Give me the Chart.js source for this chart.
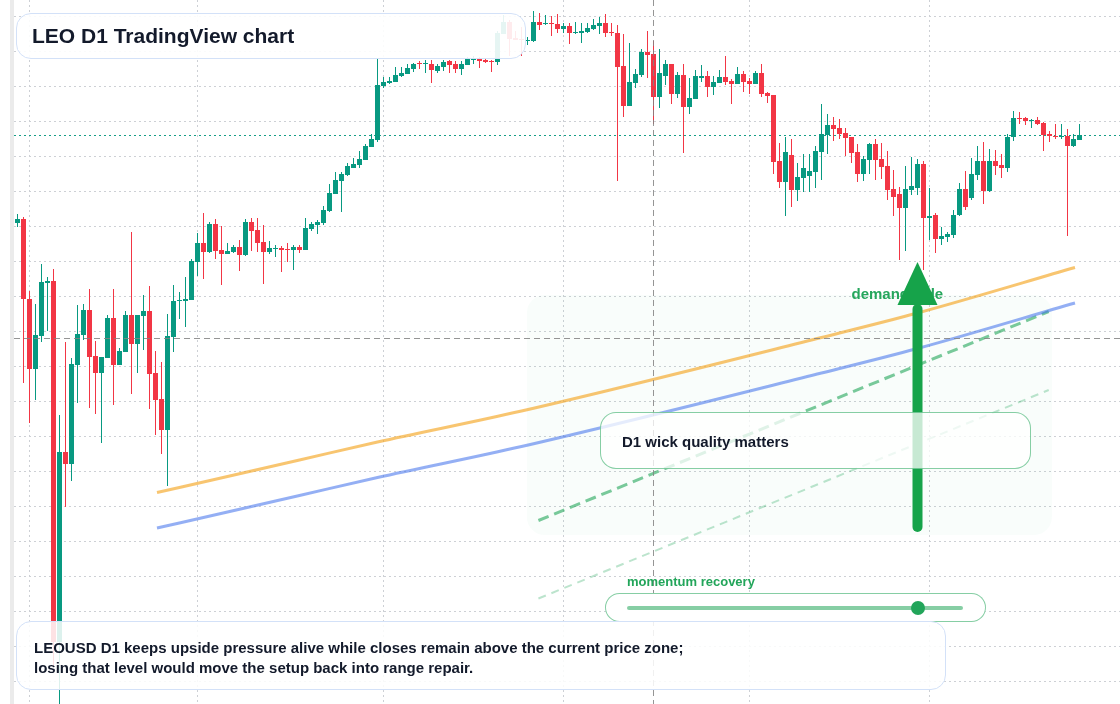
<!DOCTYPE html>
<html>
<head>
<meta charset="utf-8">
<title>LEO D1 TradingView chart</title>
<script src="https://cdn.jsdelivr.net/npm/chart.js@4.4.1/dist/chart.umd.min.js"></script>
<style>
  html, body { margin:0; padding:0; background:#ffffff; }
  #wrap { position:relative; width:1120px; height:704px; overflow:hidden; font-family:"Liberation Sans", Arial, Helvetica, sans-serif; }
  #chart { position:absolute; left:0; top:0; }
  .box { position:absolute; box-sizing:border-box; }
  .txt { position:absolute; white-space:nowrap; font-weight:700; color:#131a2b; }
</style>
</head>
<body>
<div id="wrap">
  <canvas id="chart" width="1120" height="704"></canvas>
  <div class="box" style="left:600px;top:412px;width:431px;height:57px;border:1.5px solid rgba(34,165,89,0.55);border-radius:16px;background:rgba(255,255,255,0.76);"></div>
  <div class="txt" style="left:622px;top:432px;font-size:15px;line-height:20px;">D1 wick quality matters</div>
  <div class="txt" style="left:627px;top:574px;font-size:13px;line-height:16px;color:#22a55a;">momentum recovery</div>
  <div class="box" style="left:605px;top:593px;width:381px;height:29px;border:1.5px solid rgba(34,165,89,0.55);border-radius:15px;background:#ffffff;"></div>
  <div class="box" style="left:627px;top:606px;width:336px;height:4px;background:rgba(34,165,89,0.55);border-radius:2px;"></div>
  <div class="box" id="knob" style="left:911px;top:601px;width:14px;height:14px;border-radius:50%;background:#22a55a;"></div>
  <div class="box" style="left:16px;top:13px;width:510px;height:46px;border:1.5px solid #d3e1f8;border-radius:15px;background:rgba(255,255,255,0.9);"></div>
  <div class="txt" style="left:32px;top:24px;font-size:21px;line-height:24px;">LEO D1 TradingView chart</div>
  <div class="box" style="left:16px;top:621px;width:930px;height:69px;border:1.5px solid #d3e1f8;border-radius:15px;background:rgba(255,255,255,0.86);"></div>
  <div class="txt" style="left:34px;top:638px;font-size:15px;line-height:20px;">LEOUSD D1 keeps upside pressure alive while closes remain above the current price zone;<br>losing that level would move the setup back into range repair.</div>
</div>
<script>
// ---- data (daily candles, first candle 2025-01-30) ----
const startDate = [2025, 0, 30];
const opens = [9.554,9.562,9.402,9.262,9.328,9.434,9.438,8.716,9.096,9.072,9.270,9.330,9.380,9.288,9.254,9.284,9.364,9.270,9.296,9.370,
9.312,9.368,9.378,9.254,9.202,9.140,9.326,9.398,9.398,9.400,9.476,9.514,9.496,9.552,9.500,9.492,9.496,9.506,9.490,9.556,
9.540,9.516,9.496,9.502,9.504,9.502,9.500,9.506,9.500,9.542,9.550,9.554,9.578,9.612,9.638,9.650,9.664,9.670,9.680,9.706,
9.720,9.828,9.834,9.836,9.848,9.852,9.862,9.874,9.872,9.872,9.858,9.866,9.878,9.872,9.862,9.870,9.880,9.882,9.880,9.878,
9.876,9.932,9.956,9.924,9.922,9.918,9.918,9.956,9.952,9.954,9.952,9.942,9.948,9.934,9.934,9.936,9.942,9.948,9.954,9.936,
9.934,9.868,9.788,9.834,9.850,9.896,9.892,9.806,9.848,9.872,9.812,9.850,9.786,9.802,9.844,9.848,9.826,9.834,9.846,9.838,
9.832,9.852,9.838,9.832,9.854,9.814,9.810,9.678,9.636,9.690,9.620,9.644,9.648,9.656,9.696,9.730,9.750,9.744,9.734,9.726,
9.696,9.652,9.680,9.712,9.682,9.668,9.622,9.612,9.584,9.620,9.624,9.672,9.564,9.570,9.522,9.526,9.530,9.570,9.622,9.604,
9.650,9.678,9.618,9.678,9.670,9.664,9.726,9.764,9.764,9.758,9.760,9.754,9.732,9.728,9.726,9.728,9.708,9.720];
const highs = [9.572,9.566,9.418,9.392,9.472,9.446,9.462,9.170,9.316,9.284,9.390,9.392,9.422,9.318,9.286,9.370,9.422,9.304,9.378,9.536,
9.370,9.410,9.428,9.298,9.276,9.372,9.430,9.416,9.446,9.482,9.534,9.574,9.556,9.562,9.548,9.514,9.510,9.520,9.562,9.564,
9.564,9.550,9.518,9.510,9.508,9.514,9.510,9.510,9.564,9.556,9.560,9.588,9.632,9.656,9.656,9.674,9.684,9.698,9.712,9.732,
9.882,9.846,9.846,9.866,9.866,9.872,9.874,9.878,9.880,9.880,9.872,9.880,9.880,9.878,9.878,9.886,9.888,9.886,9.884,9.880,
9.938,9.970,9.960,9.938,9.946,9.926,9.978,9.974,9.970,9.968,9.972,9.954,9.954,9.956,9.954,9.954,9.962,9.966,9.972,9.954,
9.950,9.932,9.914,9.862,9.902,9.938,9.918,9.902,9.880,9.872,9.856,9.872,9.844,9.860,9.870,9.858,9.848,9.860,9.888,9.842,
9.866,9.858,9.844,9.858,9.872,9.816,9.810,9.714,9.726,9.722,9.674,9.692,9.692,9.708,9.792,9.772,9.766,9.762,9.744,9.726,
9.712,9.688,9.714,9.722,9.714,9.698,9.660,9.626,9.668,9.686,9.682,9.678,9.624,9.574,9.546,9.536,9.580,9.634,9.658,9.684,
9.708,9.716,9.702,9.700,9.692,9.732,9.778,9.776,9.766,9.762,9.766,9.756,9.738,9.752,9.752,9.742,9.732,9.752];
const lows = [9.546,9.234,9.154,9.200,9.316,9.338,8.666,8.585,8.986,9.038,9.194,9.320,9.184,9.172,9.114,9.284,9.190,9.270,9.296,9.212,
9.254,9.300,9.182,9.130,9.092,9.028,9.296,9.362,9.346,9.400,9.448,9.442,9.494,9.482,9.430,9.492,9.494,9.458,9.488,9.498,
9.496,9.432,9.492,9.486,9.456,9.476,9.460,9.494,9.500,9.538,9.532,9.550,9.576,9.612,9.576,9.648,9.664,9.664,9.680,9.706,
9.716,9.824,9.832,9.836,9.846,9.852,9.856,9.862,9.854,9.834,9.854,9.858,9.854,9.854,9.850,9.870,9.872,9.864,9.874,9.856,
9.870,9.932,9.888,9.920,9.888,9.910,9.916,9.940,9.950,9.928,9.934,9.934,9.912,9.932,9.914,9.934,9.940,9.932,9.926,9.928,
9.638,9.766,9.788,9.824,9.846,9.844,9.752,9.784,9.830,9.792,9.804,9.694,9.772,9.802,9.836,9.806,9.810,9.834,9.830,9.792,
9.832,9.816,9.812,9.832,9.806,9.794,9.652,9.624,9.568,9.586,9.598,9.616,9.616,9.624,9.640,9.692,9.718,9.722,9.688,9.674,
9.636,9.638,9.652,9.640,9.642,9.600,9.568,9.480,9.498,9.610,9.610,9.460,9.520,9.494,9.510,9.516,9.524,9.568,9.580,9.600,
9.640,9.592,9.616,9.650,9.644,9.656,9.718,9.752,9.750,9.744,9.750,9.698,9.716,9.722,9.722,9.528,9.706,9.720];
const closes = [9.562,9.402,9.262,9.330,9.436,9.438,8.716,9.096,9.072,9.272,9.332,9.380,9.286,9.254,9.286,9.364,9.270,9.298,9.370,9.312,
9.370,9.378,9.252,9.200,9.140,9.328,9.398,9.400,9.402,9.478,9.514,9.496,9.552,9.498,9.492,9.498,9.506,9.490,9.556,9.538,
9.514,9.496,9.504,9.504,9.500,9.500,9.506,9.500,9.544,9.552,9.556,9.580,9.614,9.640,9.652,9.668,9.672,9.682,9.708,9.722,
9.830,9.836,9.838,9.850,9.854,9.864,9.872,9.872,9.874,9.860,9.868,9.876,9.870,9.862,9.872,9.882,9.882,9.878,9.876,9.876,
9.934,9.956,9.922,9.920,9.920,9.920,9.956,9.950,9.954,9.952,9.942,9.948,9.934,9.936,9.938,9.944,9.950,9.954,9.934,9.934,
9.866,9.788,9.836,9.852,9.896,9.890,9.806,9.854,9.872,9.812,9.850,9.786,9.804,9.848,9.848,9.826,9.836,9.846,9.836,9.832,
9.852,9.836,9.832,9.854,9.812,9.808,9.676,9.636,9.696,9.620,9.646,9.664,9.658,9.698,9.732,9.750,9.742,9.732,9.724,9.694,
9.652,9.682,9.712,9.680,9.666,9.620,9.606,9.584,9.622,9.628,9.672,9.564,9.568,9.522,9.528,9.532,9.570,9.622,9.586,9.652,
9.678,9.618,9.678,9.668,9.664,9.726,9.764,9.762,9.758,9.760,9.752,9.730,9.728,9.726,9.728,9.708,9.722,9.730];

// horizontal grid values (price axis ticks, labels hidden)
const priceTicks = [9.968,9.898,9.828,9.758,9.688,9.618,9.548,9.478,9.408,9.338,9.268,9.198,9.128,9.058,8.988,8.918,8.848,8.778,8.708,8.638];
const currentPrice = 9.730;
const crosshairIndex = 106;
const crosshairPrice = 9.324;

// overlay studies (candle index, price)
const curveIdx    = [23.25, 35, 47, 60, 84, 134, 150, 176.25];
const orangeVals  = [9.015, 9.047, 9.080, 9.116, 9.178, 9.325, 9.374, 9.465];
const blueVals    = [8.944, 8.976, 9.009, 9.045, 9.107, 9.254, 9.303, 9.394];
const trendIdx    = [86.82, 171.87];
const trendVals   = [8.959, 9.377];
const channelVals = [8.803, 9.220];
const zoneIdx     = [84.9, 172.4];
const zoneVals    = [8.930, 9.410];
const arrowIdx    = 150;
const arrowVals   = [8.946, 9.390, 9.476];   // tail, head base, tip
const demandLabel = {idx: 139, price: 9.403, text: 'demand side'};

const GREEN = '#089981', RED = '#f23645';

// ---- build ----
const idx = opens.map((_, i) => i);
const dates = idx.map(i => new Date(Date.UTC(startDate[0], startDate[1], startDate[2] + i)).toISOString().slice(0, 10));
const monthStarts = idx.filter(i => dates[i].endsWith('-01'));
const candleColors = idx.map(i => closes[i] >= opens[i] ? GREEN : RED);

function rr(ctx, x, y, w, h, r) {
  ctx.beginPath();
  ctx.moveTo(x + r, y); ctx.lineTo(x + w - r, y); ctx.arcTo(x + w, y, x + w, y + r, r);
  ctx.lineTo(x + w, y + h - r); ctx.arcTo(x + w, y + h, x + w - r, y + h, r);
  ctx.lineTo(x + r, y + h); ctx.arcTo(x, y + h, x, y + h - r, r);
  ctx.lineTo(x, y + r); ctx.arcTo(x, y, x + r, y, r); ctx.closePath();
}

const overlayPlugin = {
  id: 'overlay',
  beforeDatasetsDraw(chart) {
    const {ctx, scales: {x, y}} = chart;
    ctx.save();
    ctx.fillStyle = '#ebebeb';
    ctx.fillRect(10, 0, 4, chart.height);
    ctx.lineWidth = 1;
    ctx.strokeStyle = '#cdd0d5';
    ctx.setLineDash([2, 3]);
    priceTicks.forEach(v => {
      const py = Math.round(y.getPixelForValue(v)) + 0.5;
      ctx.beginPath(); ctx.moveTo(14, py); ctx.lineTo(chart.width, py); ctx.stroke();
    });
    monthStarts.forEach(i => {
      const px = x.getPixelForValue(i);
      ctx.beginPath(); ctx.moveTo(px, 0); ctx.lineTo(px, chart.height); ctx.stroke();
    });
    // demand zone
    const zx0 = x.getPixelForValue(zoneIdx[0]), zx1 = x.getPixelForValue(zoneIdx[1]);
    const zy0 = y.getPixelForValue(zoneVals[1]), zy1 = y.getPixelForValue(zoneVals[0]);
    ctx.setLineDash([]);
    ctx.fillStyle = 'rgba(34,197,94,0.028)';
    rr(ctx, zx0, zy0, zx1 - zx0, zy1 - zy0, 18);
    ctx.fill();
    // current price line
    ctx.strokeStyle = 'rgba(8,153,129,0.95)';
    ctx.setLineDash([2, 3]);
    const cp = Math.round(y.getPixelForValue(currentPrice)) + 0.5;
    ctx.beginPath(); ctx.moveTo(14, cp); ctx.lineTo(chart.width, cp); ctx.stroke();
    ctx.restore();
  },
  afterDatasetsDraw(chart) {
    const {ctx, scales: {x, y}} = chart;
    ctx.save();
    // crosshair
    ctx.strokeStyle = 'rgba(130,130,130,0.85)';
    ctx.lineWidth = 1;
    ctx.setLineDash([6, 4]);
    const hx = x.getPixelForValue(crosshairIndex);
    const hy = Math.round(y.getPixelForValue(crosshairPrice)) + 0.5;
    ctx.beginPath(); ctx.moveTo(hx, 0); ctx.lineTo(hx, chart.height); ctx.stroke();
    ctx.beginPath(); ctx.moveTo(14, hy); ctx.lineTo(chart.width, hy); ctx.stroke();
    ctx.setLineDash([]);
    // demand label
    ctx.fillStyle = '#25a65c';
    ctx.font = 'bold 15px "Liberation Sans", Arial, sans-serif';
    ctx.textBaseline = 'alphabetic';
    ctx.fillText(demandLabel.text, x.getPixelForValue(demandLabel.idx), y.getPixelForValue(demandLabel.price));
    // arrow
    const ax = x.getPixelForValue(arrowIdx);
    const tail = y.getPixelForValue(arrowVals[0]);
    const base = y.getPixelForValue(arrowVals[1]);
    const tip = y.getPixelForValue(arrowVals[2]);
    ctx.strokeStyle = '#16a34a';
    ctx.fillStyle = '#16a34a';
    ctx.lineWidth = 10;
    ctx.lineCap = 'round';
    ctx.beginPath(); ctx.moveTo(ax, tail); ctx.lineTo(ax, base + 4); ctx.stroke();
    ctx.beginPath(); ctx.moveTo(ax - 20, base); ctx.lineTo(ax + 20, base); ctx.lineTo(ax, tip); ctx.closePath(); ctx.fill();
    ctx.restore();
  }
};

const chart = new Chart(document.getElementById('chart'), {
  type: 'bar',
  data: {
    labels: dates,
    datasets: [
      { type: 'line', label: 'MA fast', data: curveIdx.map((v, i) => ({x: v, y: orangeVals[i]})),
        borderColor: 'rgba(245,166,35,0.65)', borderWidth: 3, pointRadius: 0, cubicInterpolationMode: 'monotone', fill: false, order: 1 },
      { type: 'line', label: 'MA slow', data: curveIdx.map((v, i) => ({x: v, y: blueVals[i]})),
        borderColor: 'rgba(60,110,235,0.55)', borderWidth: 3, pointRadius: 0, cubicInterpolationMode: 'monotone', fill: false, order: 1 },
      { type: 'line', label: 'trend', data: trendIdx.map((v, i) => ({x: v, y: trendVals[i]})),
        borderColor: 'rgba(34,165,89,0.6)', borderWidth: 3, borderDash: [11, 6], pointRadius: 0, fill: false, order: 1 },
      { type: 'line', label: 'channel', data: trendIdx.map((v, i) => ({x: v, y: channelVals[i]})),
        borderColor: 'rgba(34,165,89,0.3)', borderWidth: 2, borderDash: [8, 6], pointRadius: 0, fill: false, order: 1 },
      { type: 'bar', label: 'wick', data: idx.map(i => ({x: i, y: [lows[i], highs[i]]})),
        backgroundColor: candleColors, borderWidth: 0, barThickness: 1, grouped: false, inflateAmount: 0, order: 3 },
      { type: 'bar', label: 'body', data: idx.map(i => ({x: i, y: [opens[i], closes[i]]})),
        backgroundColor: candleColors, borderWidth: 0, barThickness: 5, minBarLength: 1, grouped: false, inflateAmount: 0, order: 2 }
    ]
  },
  options: {
    responsive: false,
    animation: false,
    devicePixelRatio: 1,
    events: [],
    layout: { padding: 0 },
    plugins: { legend: { display: false }, tooltip: { enabled: false } },
    scales: {
      x: { type: 'linear', min: -17.5 / 6, max: (1120 - 17.5) / 6, offset: false, display: false },
      y: { type: 'linear', min: 8.592, max: 10.0, display: false }
    }
  },
  plugins: [overlayPlugin]
});

const knob = document.getElementById('knob');
knob.style.left = (chart.scales.x.getPixelForValue(arrowIdx) - 7) + 'px';
</script>
</body>
</html>
